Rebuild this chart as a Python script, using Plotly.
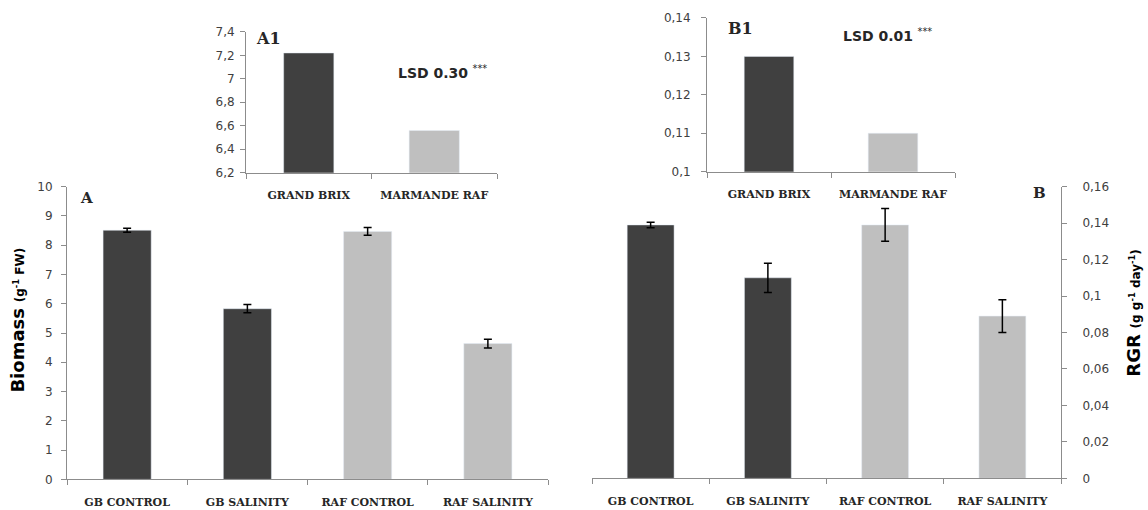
import plotly.graph_objects as go

# ---- data ----
treatments = ["GB CONTROL", "GB SALINITY", "RAF CONTROL", "RAF SALINITY"]
biomass = [8.51, 5.83, 8.47, 4.64]
biomass_err = [0.07, 0.14, 0.13, 0.15]
rgr = [0.139, 0.110, 0.139, 0.089]
rgr_err = [0.0015, 0.008, 0.009, 0.009]

cultivars = ["GRAND BRIX", "MARMANDE RAF"]
biomass_cult = [7.22, 6.56]
rgr_cult = [0.13, 0.11]

dark = "#404040"
light = "#bfbfbf"
treat_colors = [dark, dark, light, light]
cult_colors = [dark, light]

W, H = 1148, 510
# the photographed page maps paper pixel y to about 4 + 0.98*y
Y_OFF, Y_SCALE = 4.0, 0.98


def fy(y):
    """paper fraction for a target picture y (pixels from top)"""
    return 1 - ((y - Y_OFF) / Y_SCALE) / H


def px_x(a, b):
    return [a / W, b / W]


def px_y(top, bottom):
    return [fy(bottom), fy(top)]


fig = go.Figure()

err_style = dict(type="data", color="black", thickness=1.5, width=4, visible=True)

fig.add_trace(go.Bar(x=treatments, y=biomass, marker_color=treat_colors, width=0.4,
                     error_y=dict(array=biomass_err, **err_style),
                     xaxis="x", yaxis="y", showlegend=False))
fig.add_trace(go.Bar(x=treatments, y=rgr, marker_color=treat_colors, width=0.4,
                     error_y=dict(array=rgr_err, **err_style),
                     xaxis="x2", yaxis="y2", showlegend=False))
fig.add_trace(go.Bar(x=cultivars, y=biomass_cult, marker_color=cult_colors, width=0.4,
                     xaxis="x3", yaxis="y3", showlegend=False))
fig.add_trace(go.Bar(x=cultivars, y=rgr_cult, marker_color=cult_colors, width=0.4,
                     xaxis="x4", yaxis="y4", showlegend=False))

axcol = "#8c8c8c"
tickfont = dict(family="DejaVu Sans", size=12, color="#404040")
catfont = dict(family="DejaVu Serif", size=11, color="#262626", weight="bold")

xcommon = dict(type="category", showline=True, linecolor=axcol, linewidth=1,
               ticks="outside", tickcolor=axcol, ticklen=5, tickson="boundaries",
               showgrid=False, zeroline=False, tickfont=catfont, fixedrange=True,
               ticklabelstandoff=12)
ycommon = dict(showline=True, linecolor=axcol, linewidth=1, ticks="outside",
               tickcolor=axcol, ticklen=5, showgrid=False, zeroline=False,
               tickfont=tickfont, fixedrange=True)

fig.update_layout(
    width=W, height=H,
    margin=dict(l=0, r=0, t=0, b=0),
    paper_bgcolor="white", plot_bgcolor="rgba(0,0,0,0)",
    separators=", ",
    xaxis=dict(domain=px_x(67, 548), anchor="y", range=[-0.5, 3.5], **xcommon),
    yaxis=dict(domain=px_y(185, 480), anchor="x", range=[0, 10], dtick=1,
               ticklabelstandoff=6, **ycommon),
    xaxis2=dict(domain=px_x(592, 1061), anchor="y2", range=[-0.5, 3.5], **xcommon),
    yaxis2=dict(domain=px_y(185, 479), anchor="x2", side="right", range=[0, 0.16],
                dtick=0.02, ticklabelstandoff=13, **ycommon),
    xaxis3=dict(domain=px_x(246, 497), anchor="y3", range=[-0.5, 1.5], **xcommon),
    yaxis3=dict(domain=px_y(29, 171), anchor="x3", range=[6.2, 7.4], dtick=0.2,
                ticklabelstandoff=3, **ycommon),
    xaxis4=dict(domain=px_x(707, 955), anchor="y4", range=[-0.5, 1.5], **xcommon),
    yaxis4=dict(domain=px_y(15, 170), anchor="x4", range=[0.1, 0.14], dtick=0.01,
                ticklabelstandoff=8, **ycommon),
)


def ann(text, x, y, size, family="DejaVu Sans", angle=0, xanchor="left", yanchor="middle", color="#262626"):
    fig.add_annotation(text=text, x=x / W, y=fy(y), xref="paper", yref="paper",
                       showarrow=False, textangle=angle, xanchor=xanchor, yanchor=yanchor,
                       font=dict(family=family, size=size, color=color))


ann("<b>A1</b>", 254, 36, 16, family="DejaVu Serif")
ann("<b>LSD 0.30</b> <sup>***</sup>", 396, 70, 14)
ann("<b>B1</b>", 726, 26, 16, family="DejaVu Serif")
ann("<b>LSD 0.01</b> <sup>***</sup>", 841, 32, 14)
ann("<b>A</b>", 78, 196, 15, family="DejaVu Serif")
ann("<b>B</b>", 1031, 191, 15, family="DejaVu Serif")

ann("<b>Biomass</b> <span style='font-size:12px'><b>(g<sup>-1</sup> FW)</b></span>",
    18, 320, 18, angle=-90, xanchor="center", yanchor="middle", color="#000000")
ann("<b>RGR</b> <span style='font-size:12px'><b>(g g<sup>-1</sup> day<sup>-1</sup>)</b></span>",
    1134, 312, 18, angle=-90, xanchor="center", yanchor="middle", color="#000000")

fig.write_html("out.html", config={"displayModeBar": False},
               post_script="document.body.style.margin='0';document.documentElement.style.overflow='hidden';")
